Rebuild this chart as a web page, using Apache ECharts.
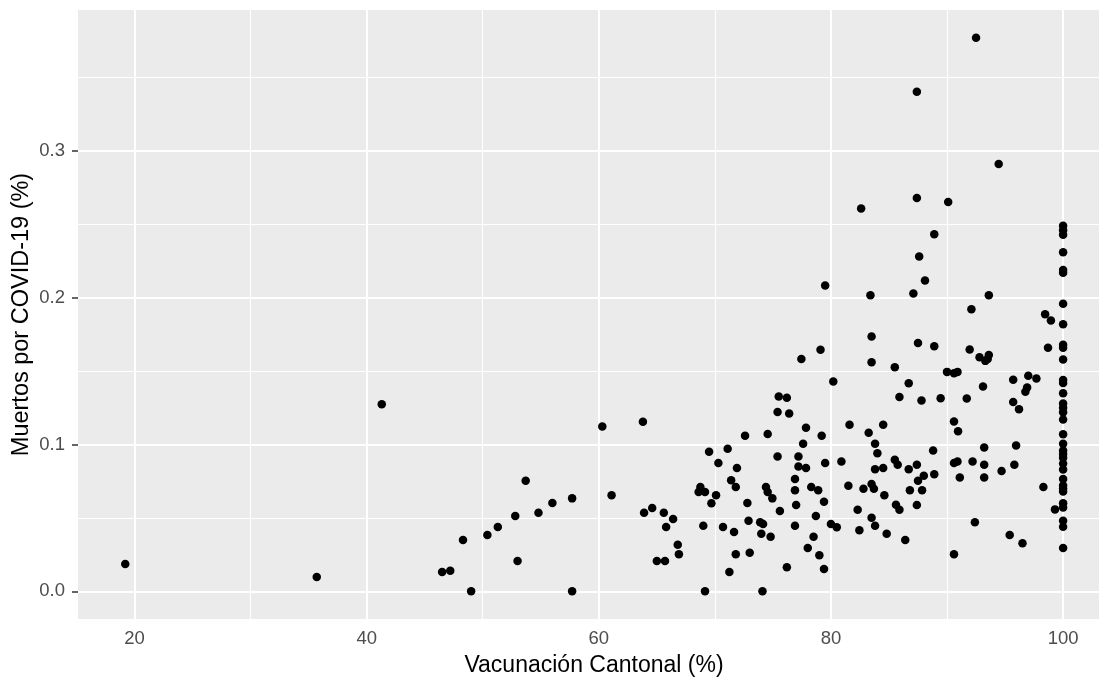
<!DOCTYPE html>
<html>
<head>
<meta charset="utf-8">
<script src="https://cdn.jsdelivr.net/npm/echarts@6/dist/echarts.min.js"></script>
<style>
  html, body { margin: 0; padding: 0; background: #ffffff; }
  #chart { width: 1099px; height: 682px; }
</style>
</head>
<body>
<div id="chart"></div>
<script>
// ---- Data ----
const vacunacion = [
  19.2, 35.7, 41.3,
  46.5, 47.2, 48.3, 49.0, 50.4, 51.3, 52.8, 53.0, 53.7, 54.8, 56.0, 57.7, 57.7,
  60.3, 61.1, 63.8, 63.9, 64.6, 65.0, 65.6, 65.7, 65.8, 66.4, 66.8, 66.9,
  77.45, 79.1, 75.5, 76.2, 75.4, 76.4, 77.85, 72.6, 74.55, 79.2, 77.6, 69.5,
  71.1, 75.4, 77.2, 70.3, 71.9, 77.2, 77.85, 76.9, 71.4, 71.8, 74.4, 74.55,
  74.95, 68.75, 68.6, 69.15, 70.1, 69.7, 76.9, 78.3, 78.9, 72.8, 75.6, 77.0,
  78.7, 69.0, 70.7, 71.65, 72.9, 73.9, 74.15, 74.0, 74.8, 76.9, 78.5, 78.0,
  79.0, 71.8, 73.0, 71.25, 76.2, 69.15, 74.1,
  82.6, 87.4, 90.1, 88.9, 87.6, 88.1, 79.5, 83.4, 87.1, 83.5, 87.5, 88.9,
  83.5, 85.5, 80.2, 86.7, 90.0, 90.6, 90.9, 85.9, 87.8, 89.45, 87.4, 92.5, 94.45,
  81.6, 84.5, 83.25, 90.6, 90.95, 83.8, 84.0, 88.8, 79.5, 80.9, 85.5, 85.75,
  83.8, 84.5, 86.7, 87.4, 88.0, 87.5, 88.9, 90.6, 90.9, 91.1, 81.5, 82.8,
  83.5, 83.7, 84.6, 86.8, 87.85, 87.4, 85.6, 85.9, 79.4, 82.3, 83.5, 80.0,
  80.5, 83.8, 82.45, 84.8, 86.4, 79.4, 90.6,
  93.6, 92.1, 98.45, 98.95, 98.7, 91.95, 92.8, 93.3, 93.6, 93.5, 95.7, 97.0,
  97.7, 96.9, 96.75, 93.1, 91.7, 95.7,
  96.2, 93.2, 95.95, 92.2, 93.2, 95.8, 94.7, 93.2, 98.3, 99.3, 92.4, 95.4, 96.5,
  100, 100, 100, 100, 100, 100, 100, 100, 100, 100, 100, 100, 100, 100, 100, 100, 100,
  100, 100, 100, 100, 100, 100, 100, 100, 100, 100, 100, 100, 100, 100, 100, 100, 100
];
const muertos = [
  0.0186, 0.0097, 0.1275,
  0.0131, 0.0140, 0.0349, 0.0, 0.0383, 0.0438, 0.0513, 0.0206, 0.0753, 0.0535, 0.0601, 0.0633, 0.0,
  0.1123, 0.0654, 0.1155, 0.0535, 0.0567, 0.0206, 0.0535, 0.0206, 0.0438, 0.0492, 0.0317, 0.0252,
  0.1582, 0.1645, 0.1328, 0.1318, 0.1221, 0.1212, 0.1114, 0.1060, 0.1071, 0.1060, 0.1005, 0.0951,
  0.0971, 0.0919, 0.0919, 0.0874, 0.0840, 0.0851, 0.0840, 0.0765, 0.0756, 0.0710, 0.0710, 0.0676,
  0.0633, 0.0710, 0.0676, 0.0676, 0.0654, 0.0599, 0.0688, 0.0710, 0.0688, 0.0601, 0.0547, 0.0588,
  0.0513, 0.0447, 0.0438, 0.0404, 0.0481, 0.0470, 0.0458, 0.0392, 0.0372, 0.0447, 0.0372, 0.0295,
  0.0245, 0.0252, 0.0263, 0.0131, 0.0163, 0.0, 0.0,
  0.2608, 0.2680, 0.2653, 0.2433, 0.2281, 0.2118, 0.2083, 0.2017, 0.2029, 0.1736, 0.1691, 0.1670,
  0.1561, 0.1527, 0.1430, 0.1418, 0.1495, 0.1486, 0.1495, 0.1323, 0.1300, 0.1316, 0.3404, 0.3772, 0.2911,
  0.1134, 0.1134, 0.1080, 0.1157, 0.1091, 0.1005, 0.0940, 0.0960, 0.0874, 0.0885, 0.0896, 0.0862,
  0.0831, 0.0840, 0.0831, 0.0862, 0.0787, 0.0753, 0.0797, 0.0874, 0.0885, 0.0776, 0.0719, 0.0699,
  0.0731, 0.0699, 0.0654, 0.0688, 0.0688, 0.0588, 0.0590, 0.0556, 0.0610, 0.0556, 0.0501, 0.0458,
  0.0436, 0.0447, 0.0415, 0.0392, 0.0349, 0.0152, 0.0252,
  0.2017, 0.1922, 0.1888, 0.1845, 0.1659, 0.1648, 0.1595, 0.1570, 0.1610, 0.1582, 0.1441, 0.1468,
  0.1450, 0.1389, 0.1359, 0.1396, 0.1314, 0.1290,
  0.1241, 0.0980, 0.0994, 0.0885, 0.0862, 0.0862, 0.0819, 0.0776, 0.0710, 0.0558, 0.0470, 0.0383, 0.0327,
  0.249, 0.246, 0.243, 0.231, 0.219, 0.217, 0.196, 0.182, 0.168, 0.166, 0.158, 0.144, 0.142, 0.135, 0.128, 0.125, 0.122,
  0.117, 0.107, 0.1005, 0.096, 0.0935, 0.091, 0.087, 0.083, 0.0765, 0.072, 0.070, 0.068, 0.060, 0.057, 0.048, 0.044, 0.0295
];
const xMajorTicks = [20, 40, 60, 80, 100];
const xMinorTicks = [30, 50, 70, 90];
const yMajorTicks = [0.0, 0.1, 0.2, 0.3];
const yMinorTicks = [0.05, 0.15, 0.25, 0.35];
const xTitle = 'Vacunación Cantonal (%)';
const yTitle = 'Muertos por COVID-19 (%)';

// ---- Build ----
const points = vacunacion.map((v, i) => [v, muertos[i]]);
const FONT = "'Liberation Sans', Arial, sans-serif";

function gridLines(vals, axis, width) {
  return vals.map(v => ({ [axis]: v, lineStyle: { color: '#ffffff', width: width, type: 'solid' } }));
}

const chart = echarts.init(document.getElementById('chart'), null, { renderer: 'canvas' });
chart.setOption({
  animation: false,
  backgroundColor: '#ffffff',
  grid: {
    left: 78, top: 10, width: 1032, height: 609,
    show: true, backgroundColor: '#EBEBEB', borderWidth: 0,
    containLabel: false,
    outerBoundsMode: 'none'
  },
  xAxis: {
    type: 'value', min: 15.13, max: 104.04,
    name: xTitle, nameLocation: 'middle', nameGap: 35, nameMoveOverlap: false,
    nameTextStyle: { color: '#000000', fontSize: 23, fontFamily: FONT },
    axisLine: { show: false },
    splitLine: { show: false },
    axisTick: { show: true, length: 6, customValues: xMajorTicks, lineStyle: { color: '#333333', width: 1.5 } },
    axisLabel: { customValues: xMajorTicks, margin: 10, color: '#4D4D4D', fontSize: 18.5, fontFamily: FONT,
      formatter: v => String(v) }
  },
  yAxis: {
    type: 'value', min: -0.0189, max: 0.3961,
    name: yTitle, nameLocation: 'middle', nameGap: 44, nameRotate: 90, nameMoveOverlap: false,
    nameTextStyle: { color: '#000000', fontSize: 23.5, fontFamily: FONT },
    axisLine: { show: false },
    splitLine: { show: false },
    axisTick: { show: true, length: 6, customValues: yMajorTicks, lineStyle: { color: '#333333', width: 1.5 } },
    axisLabel: { customValues: yMajorTicks, margin: 13, color: '#4D4D4D', fontSize: 18.5, fontFamily: FONT,
      formatter: v => v.toFixed(1) }
  },
  series: [
    {
      type: 'scatter', data: [], silent: true, z: 1,
      markLine: {
        z: 1, silent: true, symbol: ['none', 'none'], label: { show: false }, animation: false,
        data: [].concat(
          gridLines(xMinorTicks, 'xAxis', 1.1),
          gridLines(yMinorTicks, 'yAxis', 1.1),
          gridLines(xMajorTicks, 'xAxis', 2),
          gridLines(yMajorTicks, 'yAxis', 2)
        )
      }
    },
    {
      type: 'scatter', data: points, z: 10,
      symbol: 'circle', symbolSize: 8.5,
      itemStyle: { color: '#000000', opacity: 1 }
    }
  ]
});
</script>
</body>
</html>
